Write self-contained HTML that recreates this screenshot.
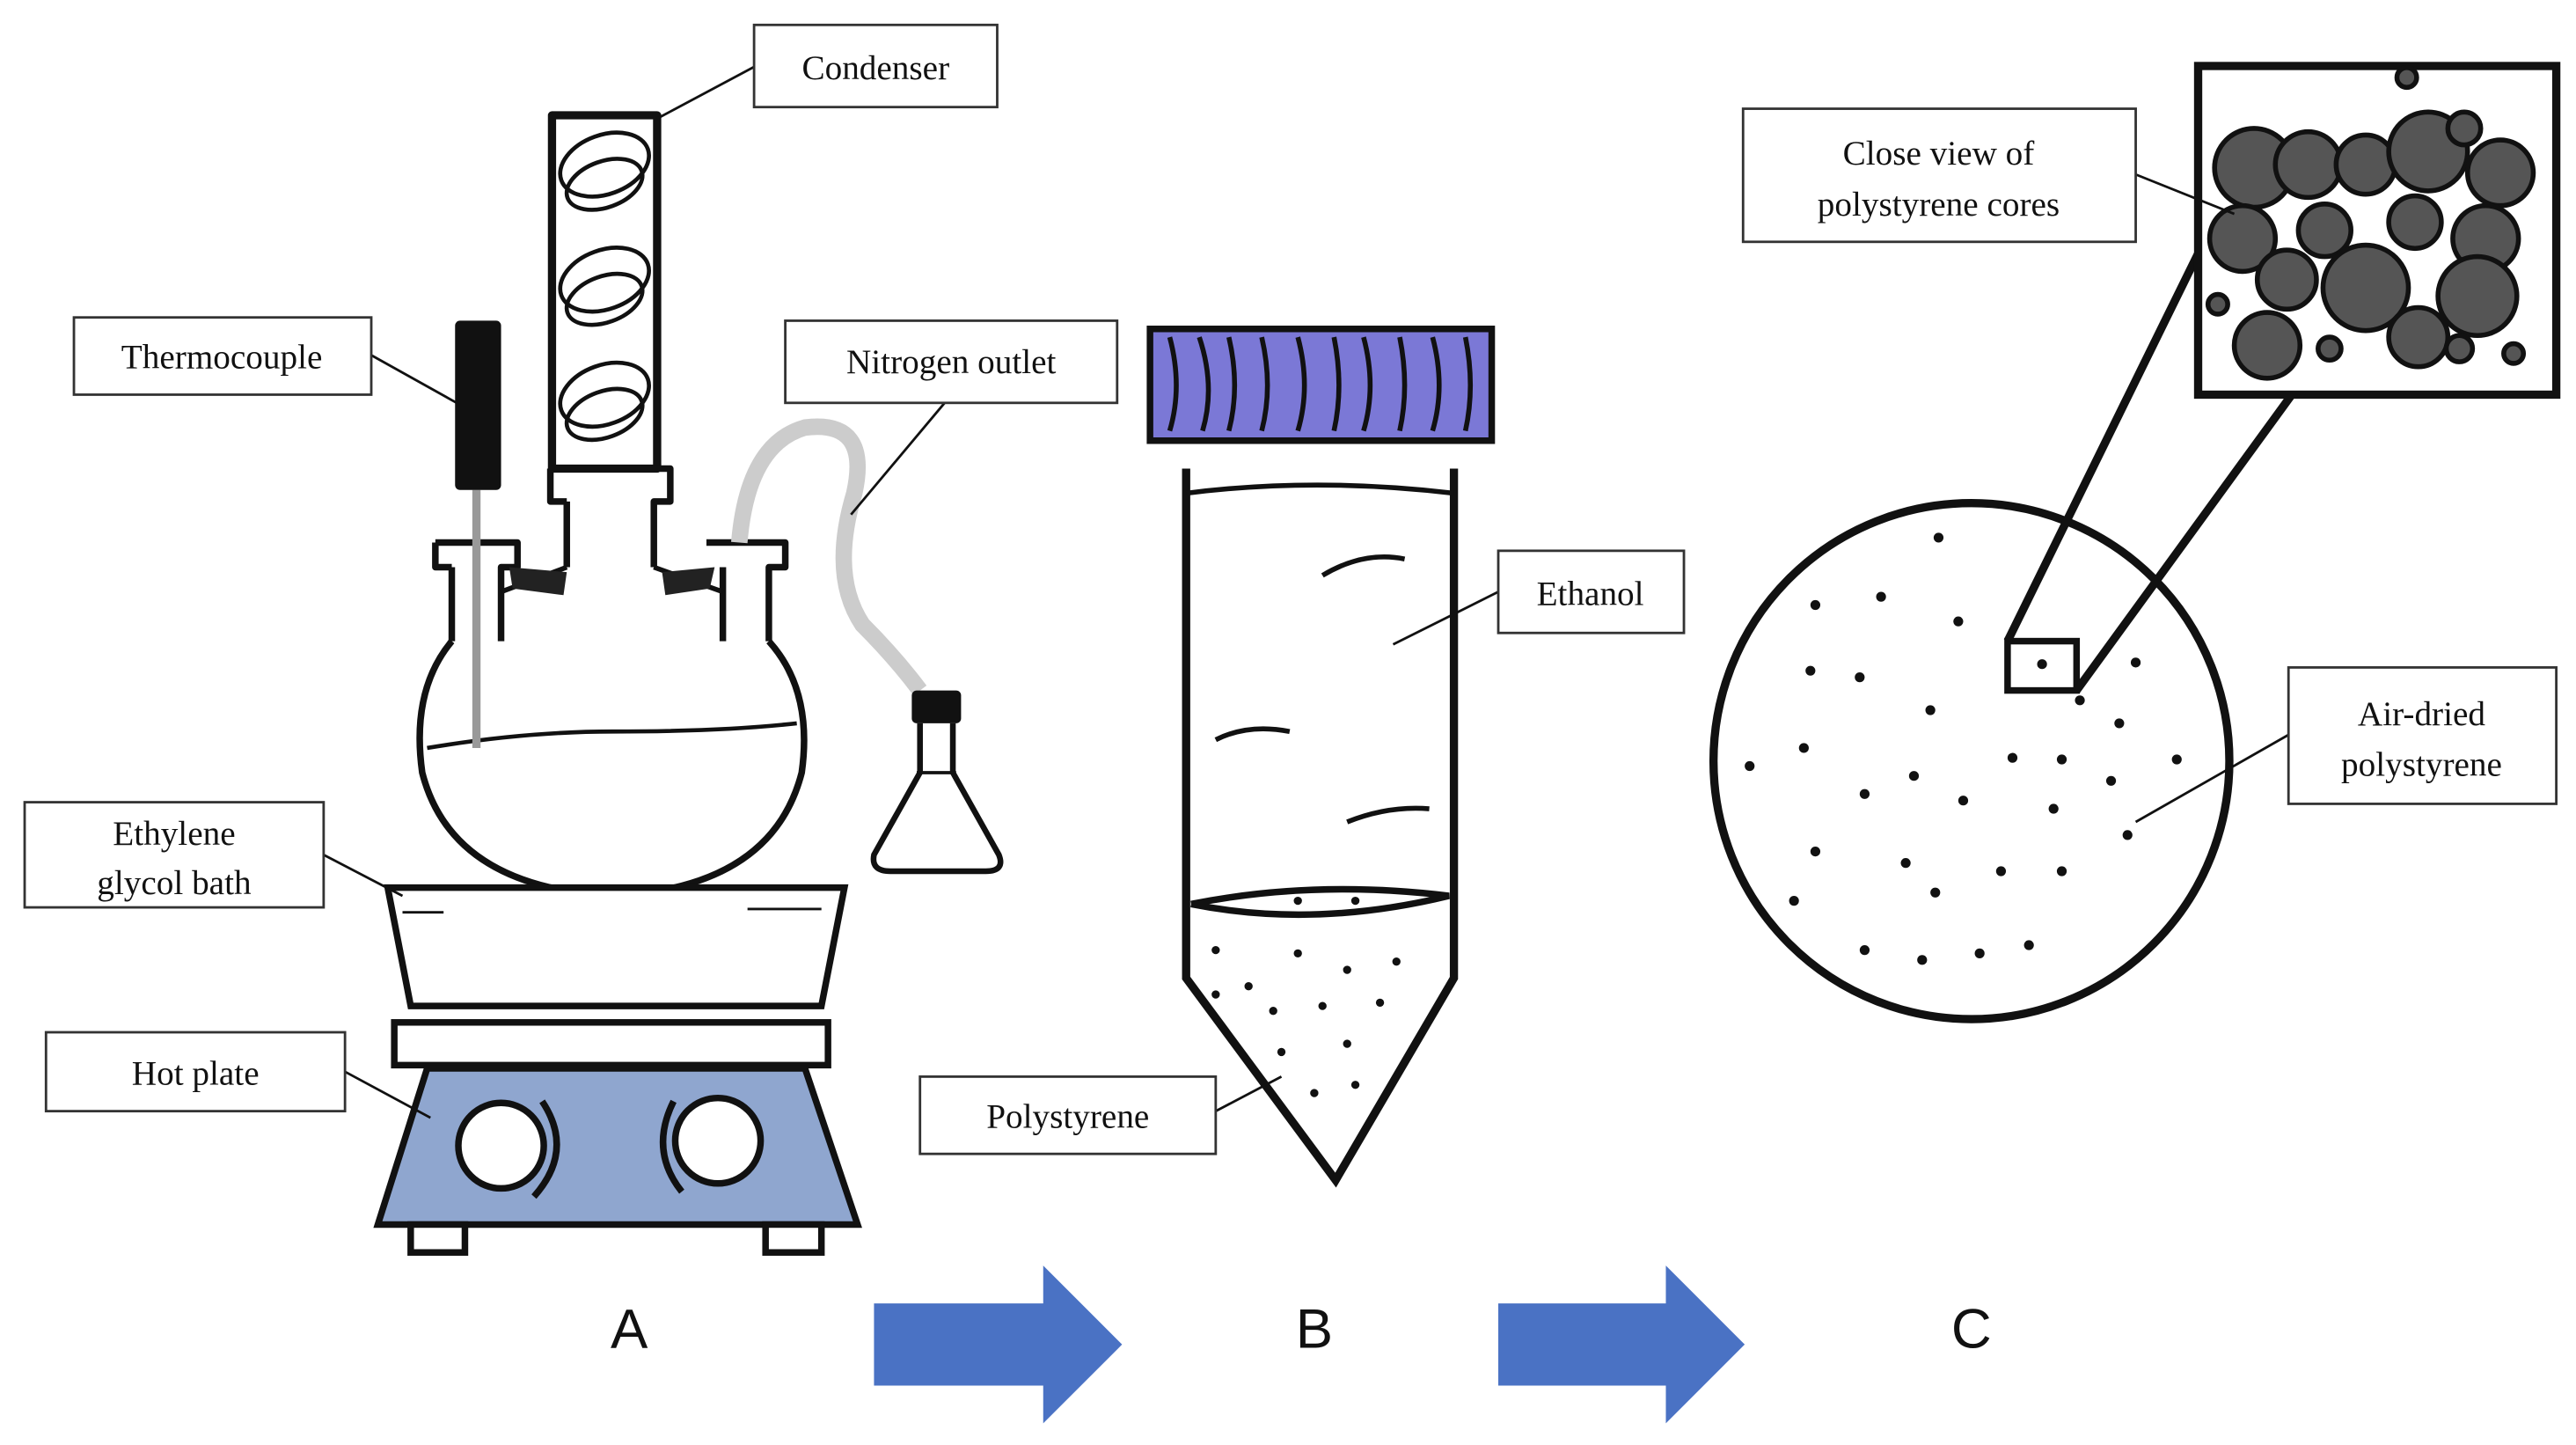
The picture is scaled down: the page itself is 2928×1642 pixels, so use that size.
<!DOCTYPE html>
<html><head><meta charset="utf-8"><style>
html,body{margin:0;padding:0;background:#fff}
svg{display:block}
text{font-family:"Liberation Serif",serif;font-size:21px;fill:#111}
.big{font-family:"Liberation Sans",sans-serif;font-size:34px}
</style></head><body>
<svg width="2928" height="1642" viewBox="0 0 1568 879" xmlns="http://www.w3.org/2000/svg">
<rect width="1568" height="879" fill="#fff"/>
<g stroke="#111" fill="none" stroke-width="4" stroke-linejoin="round">
<!-- condenser -->
<rect x="336" y="70" width="64" height="215" stroke-width="5"/>
<g stroke-width="2.5">
<ellipse cx="368" cy="100" rx="28" ry="18" transform="rotate(-20 368 100)"/>
<ellipse cx="368" cy="112" rx="24" ry="14" transform="rotate(-20 368 112)"/>
<ellipse cx="368" cy="170" rx="28" ry="18" transform="rotate(-20 368 170)"/>
<ellipse cx="368" cy="182" rx="24" ry="14" transform="rotate(-20 368 182)"/>
<ellipse cx="368" cy="240" rx="28" ry="18" transform="rotate(-20 368 240)"/>
<ellipse cx="368" cy="252" rx="24" ry="14" transform="rotate(-20 368 252)"/>
</g>
<!-- flask necks -->
<path d="M335 285 H408 V305 H398 V345 M345 305 V345 M335 285 V305 H345"/>
<path d="M265 330 H315 V345 H305 V390 M275 345 V390 M265 330 V345 H275"/>
<path d="M430 330 H478 V345 H468 V390 M440 345 V390"/>
<path d="M275 390 Q250 420 257 470 Q275 540 373 545 Q470 540 488 470 Q495 420 468 390"/>
<path d="M345 345 L305 360 M398 345 L440 360" stroke-width="3"/>
<path d="M260 455 Q320 445 373 445 Q440 445 485 440" stroke-width="2.5"/>
</g>
<path d="M310 345 L345 348 L343 362 L312 358Z M403 348 L435 345 L432 358 L405 362Z" fill="#222"/>
<!-- nitrogen tube -->
<path d="M290 298 V455" stroke="#999" stroke-width="5"/>
<path d="M450 330 Q455 270 490 260 Q530 255 520 300 Q505 350 525 380 Q545 400 560 420" stroke="#ccc" stroke-width="10" fill="none"/>
<!-- thermocouple -->
<rect x="277" y="195" width="28" height="103" rx="3" fill="#111"/>
<!-- erlenmeyer -->
<path d="M560 440 V470 L532 520 Q530 530 542 530 H600 Q612 530 608 520 L580 470 V440" stroke="#111" stroke-width="3.5" fill="none"/>
<rect x="555" y="420" width="30" height="20" rx="3" fill="#111"/>
<path d="M558 470 H582" stroke="#111" stroke-width="2"/>
<!-- bath -->
<g stroke="#111" stroke-width="4" fill="#fff">
<path d="M236 540 H514 L500 612 H250 Z"/>
<rect x="240" y="622" width="264" height="26"/>
<path d="M260 650 H490 L522 745 H230 Z" fill="#8fa6cf"/>
<rect x="250" y="745" width="33" height="17"/>
<rect x="466" y="745" width="34" height="17"/>
<circle cx="305" cy="697" r="26"/>
<circle cx="437" cy="694" r="26"/>
</g>
<path d="M330 670 Q350 700 325 728 M410 670 Q395 700 415 725" stroke="#111" stroke-width="4" fill="none"/>
<path d="M245 555 H270 M455 553 H500" stroke="#111" stroke-width="1.5"/>
<!-- tube B -->
<rect x="700" y="200" width="208" height="68" fill="#7b78d6" stroke="#111" stroke-width="4"/>
<g stroke="#111" stroke-width="3" fill="none">
<path d="M712 205 Q720 235 712 262 M730 205 Q740 235 732 262 M748 205 Q755 235 748 262 M768 205 Q775 235 768 262 M790 205 Q798 235 790 262 M812 205 Q818 235 812 262 M830 205 Q838 235 830 262 M852 205 Q858 235 852 262 M872 205 Q880 235 872 262 M892 205 Q898 235 892 262"/>
</g>
<g stroke="#111" stroke-width="5" fill="none">
<path d="M722 285 V595 L813 718 L885 595 V285"/>
<path d="M722 300 Q800 290 885 300" stroke-width="3"/>
<path d="M725 550 Q800 535 882 545 Q800 565 725 550" stroke-width="4"/>
<path d="M805 350 Q830 335 855 340 M740 450 Q760 440 785 445 M820 500 Q845 490 870 492" stroke-width="3"/>
</g>
<g fill="#111">
<circle cx="740" cy="578" r="2.5"/><circle cx="760" cy="600" r="2.5"/><circle cx="790" cy="580" r="2.5"/><circle cx="820" cy="590" r="2.5"/><circle cx="850" cy="585" r="2.5"/><circle cx="740" cy="605" r="2.5"/><circle cx="775" cy="615" r="2.5"/><circle cx="805" cy="612" r="2.5"/><circle cx="840" cy="610" r="2.5"/><circle cx="780" cy="640" r="2.5"/><circle cx="820" cy="635" r="2.5"/><circle cx="800" cy="665" r="2.5"/><circle cx="825" cy="660" r="2.5"/><circle cx="790" cy="548" r="2.5"/><circle cx="825" cy="548" r="2.5"/>
</g>
<!-- C -->
<circle cx="1200" cy="463" r="157" fill="#fff" stroke="#111" stroke-width="5"/>
<g fill="#111">
<circle cx="1180" cy="327" r="3"/><circle cx="1145" cy="363" r="3"/><circle cx="1105" cy="368" r="3"/><circle cx="1192" cy="378" r="3"/><circle cx="1102" cy="408" r="3"/><circle cx="1132" cy="412" r="3"/><circle cx="1175" cy="432" r="3"/><circle cx="1065" cy="466" r="3"/><circle cx="1098" cy="455" r="3"/><circle cx="1165" cy="472" r="3"/><circle cx="1195" cy="487" r="3"/><circle cx="1225" cy="461" r="3"/><circle cx="1255" cy="462" r="3"/><circle cx="1290" cy="440" r="3"/><circle cx="1325" cy="462" r="3"/><circle cx="1135" cy="483" r="3"/><circle cx="1250" cy="492" r="3"/><circle cx="1285" cy="475" r="3"/><circle cx="1105" cy="518" r="3"/><circle cx="1160" cy="525" r="3"/><circle cx="1218" cy="530" r="3"/><circle cx="1255" cy="530" r="3"/><circle cx="1295" cy="508" r="3"/><circle cx="1092" cy="548" r="3"/><circle cx="1135" cy="578" r="3"/><circle cx="1170" cy="584" r="3"/><circle cx="1205" cy="580" r="3"/><circle cx="1235" cy="575" r="3"/><circle cx="1300" cy="403" r="3"/><circle cx="1266" cy="426" r="3"/><circle cx="1243" cy="404" r="3"/><circle cx="1178" cy="543" r="3"/>
</g>
<rect x="1222" y="390" width="42" height="30" fill="none" stroke="#111" stroke-width="4"/>
<path d="M1222 390 L1340 150 M1264 420 L1395 240" stroke="#111" stroke-width="5"/>
<rect x="1338" y="40" width="218" height="200" fill="#fff" stroke="#111" stroke-width="5"/>
<g fill="#555" stroke="#111" stroke-width="3">
<circle cx="1372" cy="102" r="24"/><circle cx="1405" cy="100" r="20"/><circle cx="1440" cy="100" r="18"/><circle cx="1478" cy="92" r="24"/><circle cx="1522" cy="105" r="20"/><circle cx="1365" cy="145" r="20"/><circle cx="1415" cy="140" r="16"/><circle cx="1470" cy="135" r="16"/><circle cx="1513" cy="145" r="20"/><circle cx="1392" cy="170" r="18"/><circle cx="1440" cy="175" r="26"/><circle cx="1508" cy="180" r="24"/><circle cx="1380" cy="210" r="20"/><circle cx="1472" cy="205" r="18"/><circle cx="1500" cy="78" r="10"/><circle cx="1465" cy="47" r="6"/><circle cx="1418" cy="212" r="7"/><circle cx="1350" cy="185" r="6"/><circle cx="1530" cy="215" r="6"/><circle cx="1497" cy="212" r="8"/>
</g>
<!-- labels -->
<g stroke="#111" stroke-width="1.5" fill="none">
<path d="M460 40 L400 72 M226 216 L278 245 M575 245 L518 313 M197 520 L245 545 M210 652 L262 680 M912 360 L848 392 M740 676 L780 655 M1300 106 L1360 130 M1393 447 L1300 500"/>
</g>
<g fill="#fff" stroke="#333" stroke-width="1.5">
<rect x="459" y="15" width="148" height="50"/>
<rect x="45" y="193" width="181" height="47"/>
<rect x="478" y="195" width="202" height="50"/>
<rect x="15" y="488" width="182" height="64"/>
<rect x="28" y="628" width="182" height="48"/>
<rect x="912" y="335" width="113" height="50"/>
<rect x="560" y="655" width="180" height="47"/>
<rect x="1061" y="66" width="239" height="81"/>
<rect x="1393" y="406" width="163" height="83"/>
</g>
<g text-anchor="middle">
<text x="533" y="48">Condenser</text>
<text x="135" y="224">Thermocouple</text>
<text x="579" y="227">Nitrogen outlet</text>
<text x="106" y="514">Ethylene</text>
<text x="106" y="544">glycol bath</text>
<text x="119" y="660">Hot plate</text>
<text x="968" y="368">Ethanol</text>
<text x="650" y="686">Polystyrene</text>
<text x="1180" y="100">Close view of</text>
<text x="1180" y="131">polystyrene cores</text>
<text x="1474" y="441">Air-dried</text>
<text x="1474" y="472">polystyrene</text>
<text class="big" x="383" y="820">A</text>
<text class="big" x="800" y="820">B</text>
<text class="big" x="1200" y="820">C</text>
</g>
<path d="M532 793 H635 V770 L683 818 L635 866 V843 H532 Z" fill="#4a72c4"/>
<path d="M912 793 H1014 V770 L1062 818 L1014 866 V843 H912 Z" fill="#4a72c4"/>
</svg>
</body></html>
